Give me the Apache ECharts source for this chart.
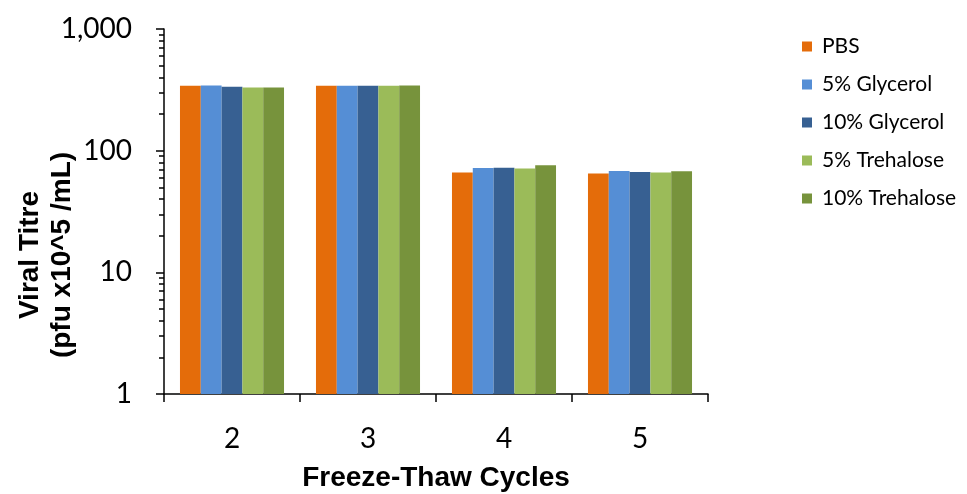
<!DOCTYPE html>
<html style="height:100%;">
<head>
    <meta charset="utf-8">
    <script src="https://cdn.jsdelivr.net/npm/echarts@6/dist/echarts.min.js"></script>
</head>
<body style="height:100%;margin:0;">
    <div id="main" style="width:967px;height:494px;"></div>
</body>
</html>
<script>
    // 数据
    var cycles = ['2', '3', '4', '5'];
    var seriesNames = ['PBS', '5% Glycerol', '10% Glycerol', '5% Trehalose', '10% Trehalose'];
    var pbs = [341, 342, 66, 65];
    var glycerol5 = [343, 342, 72, 68];
    var glycerol10 = [335, 341, 72.5, 66.7];
    var trehalose5 = [331, 342, 71.5, 66.2];
    var trehalose10 = [331, 343, 76, 67.6];
    var colors = ['#E46C0A', '#558ED5', '#376092', '#9BBB59', '#77933C'];

    // 对数轴的次刻度 (2..9 每个十倍区间)
    var minorTicks = [];
    for (var d = 0; d < 3; d++) {
        for (var k = 2; k <= 9; k++) {
            minorTicks.push(d + Math.log10(k));
        }
    }

    var values = [pbs, glycerol5, glycerol10, trehalose5, trehalose10];
    var series = [];
    for (var i = 0; i < seriesNames.length; i++) {
        series.push({
            name: seriesNames[i],
            type: 'bar',
            yAxisIndex: 0,
            barGap: 0,
            barCategoryGap: '23.5%',
            itemStyle: {color: colors[i]},
            data: values[i]
        });
    }

    var myChart = echarts.init(document.getElementById('main'));
    var option = {
        animation: false,
        textStyle: {fontFamily: 'Lato'},
        grid: {left: 164, right: 259, top: 29, bottom: 100, containLabel: false, outerBoundsMode: 'none'},
        legend: {
            orient: 'vertical',
            left: 797,
            top: 31,
            itemWidth: 10,
            itemHeight: 10,
            itemGap: 17,
            icon: 'rect',
            textStyle: {fontFamily: 'Lato', fontSize: 21, color: '#000', padding: [0, 0, 0, 5]},
            data: seriesNames
        },
        xAxis: {
            type: 'category',
            data: cycles,
            name: 'Freeze-Thaw Cycles',
            nameLocation: 'middle',
            nameGap: 70,
            nameTextStyle: {fontFamily: 'Liberation Sans', fontSize: 28, fontWeight: 'bold', color: '#000'},
            axisLine: {lineStyle: {color: '#000', width: 1.5}},
            axisTick: {show: true, length: 8, lineStyle: {color: '#000', width: 1.5}},
            axisLabel: {fontSize: 28, color: '#000', margin: 31}
        },
        yAxis: [{
            type: 'log',
            logBase: 10,
            min: 1,
            max: 1000,
            axisLine: {show: true, lineStyle: {color: '#000', width: 1.5}},
            axisTick: {show: true, length: 8, lineStyle: {color: '#000', width: 1.5}},
            splitLine: {show: false},
            axisLabel: {
                fontSize: 28, color: '#000', margin: 32,
                formatter: function (v) { return v.toLocaleString('en-US'); }
            }
        }, {
            type: 'value',
            min: 0,
            max: 3,
            position: 'left',
            axisLine: {show: false},
            axisLabel: {show: false},
            splitLine: {show: false},
            axisTick: {show: true, length: 5, customValues: minorTicks, lineStyle: {color: '#000', width: 1.5}}
        }],
        graphic: [{
            type: 'text',
            x: 46,
            y: 255,
            rotation: Math.PI / 2,
            style: {
                text: 'Viral Titre\n(pfu x10^5 /mL)',
                fontFamily: 'Liberation Sans',
                fontSize: 28,
                fontWeight: 'bold',
                lineHeight: 32,
                fill: '#000',
                align: 'center',
                verticalAlign: 'middle'
            }
        }],
        series: series
    };
    myChart.setOption(option);
</script>
